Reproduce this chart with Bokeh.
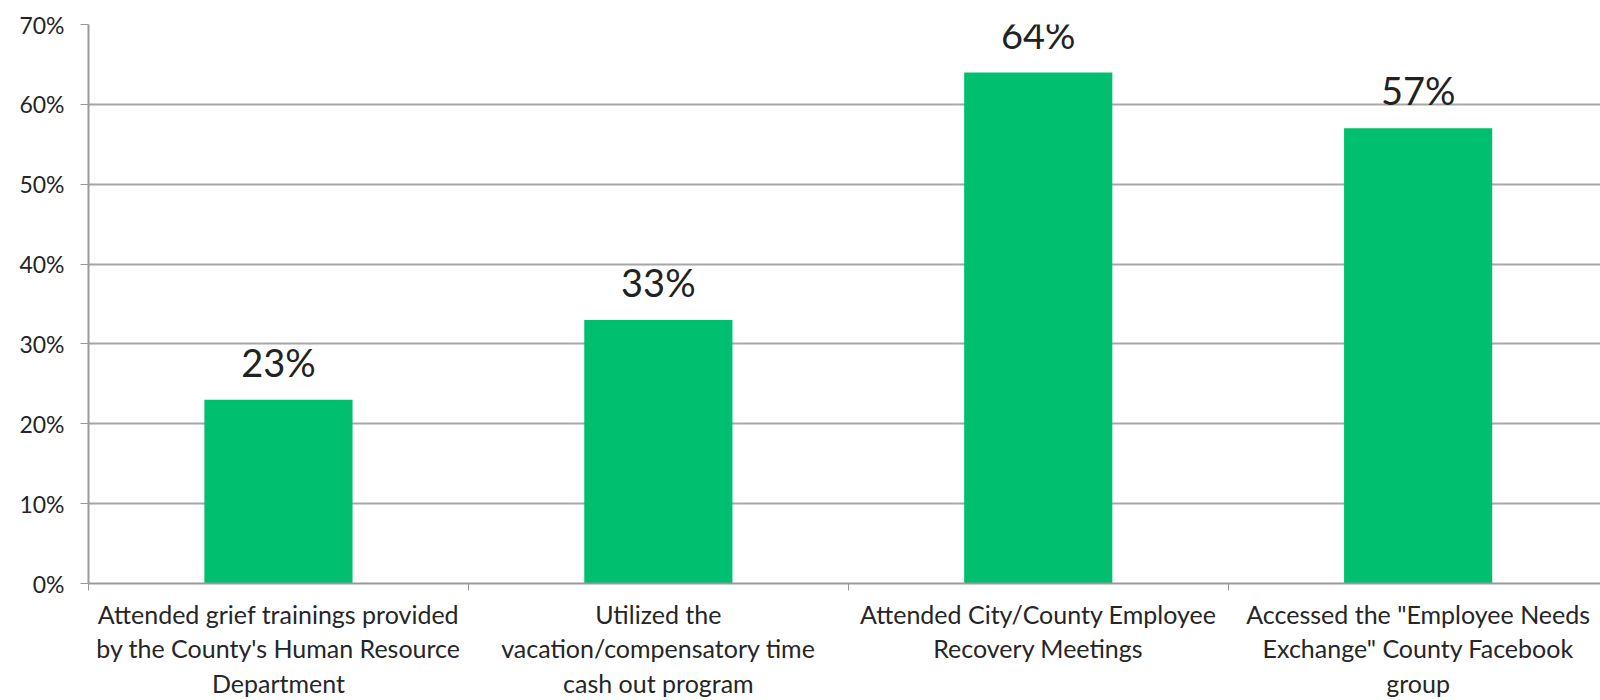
from bokeh.plotting import figure
from bokeh.models import FixedTicker, Range1d, ColumnDataSource, NumeralTickFormatter
from bokeh.embed import file_html
from bokeh.resources import INLINE
from bokeh.core.properties import value

categories = [
    "Attended grief trainings provided\nby the County's Human Resource\nDepartment",
    "Utilized the\nvacation/compensatory time\ncash out program",
    "Attended City/County Employee\nRecovery Meetings",
    "Accessed the \"Employee Needs\nExchange\" County Facebook\ngroup",
]
values = [0.23, 0.33, 0.64, 0.57]
labels = ["23%", "33%", "64%", "57%"]
y_ticks = [0, 0.1, 0.2, 0.3, 0.4, 0.5, 0.6, 0.7]

xs = [i + 0.5 for i in range(len(categories))]
src = ColumnDataSource(dict(x=xs, top=values, lab=labels))

FONT = "Lato"
p = figure(width=1600, height=700, output_backend="svg", toolbar_location=None,
           x_range=Range1d(0, 3.98), y_range=Range1d(0, 0.7),
           min_border_left=88, min_border_right=0, min_border_top=24, min_border_bottom=117)
p.outline_line_color = None
p.background_fill_color = "white"

p.vbar(x="x", top="top", width=0.39, bottom=0, source=src, fill_color="#00BF6F", line_color=None)
p.text(x="x", y="top", text="lab", source=src, text_align="center", text_baseline="alphabetic",
       y_offset=-38, text_font=value(FONT), text_font_size="38px", text_color="#222222")

# x axis
xa = p.xaxis[0]
xa.ticker = FixedTicker(ticks=xs, minor_ticks=[0, 1, 2, 3, 4])
xa.major_label_overrides = {x: c for x, c in zip(xs, categories)}
xa.major_tick_line_color = None
xa.minor_tick_line_color = "#999999"
xa.minor_tick_out = 7
xa.minor_tick_in = 0
xa.axis_line_color = "#999999"
xa.axis_line_width = 2
xa.major_label_text_font = FONT
xa.major_label_text_font_size = "25px"
xa.major_label_text_color = "#262626"
xa.major_label_standoff = 8
xa.major_label_text_line_height = 1.15

ya = p.yaxis[0]
ya.ticker = FixedTicker(ticks=y_ticks)
ya.formatter = NumeralTickFormatter(format="0%")
ya.major_tick_out = 8
ya.major_tick_in = 0
ya.major_tick_line_color = "#999999"
ya.minor_tick_line_color = None
ya.axis_line_color = "#999999"
ya.axis_line_width = 2
ya.major_label_text_font = FONT
ya.major_label_text_font_size = "23px"
ya.major_label_text_color = "#262626"
ya.major_label_standoff = 16

p.xgrid.grid_line_color = None
p.ygrid.grid_line_color = "#a6a6a6"
p.ygrid.grid_line_width = 2

open("out.html", "w").write(file_html(p, INLINE))
